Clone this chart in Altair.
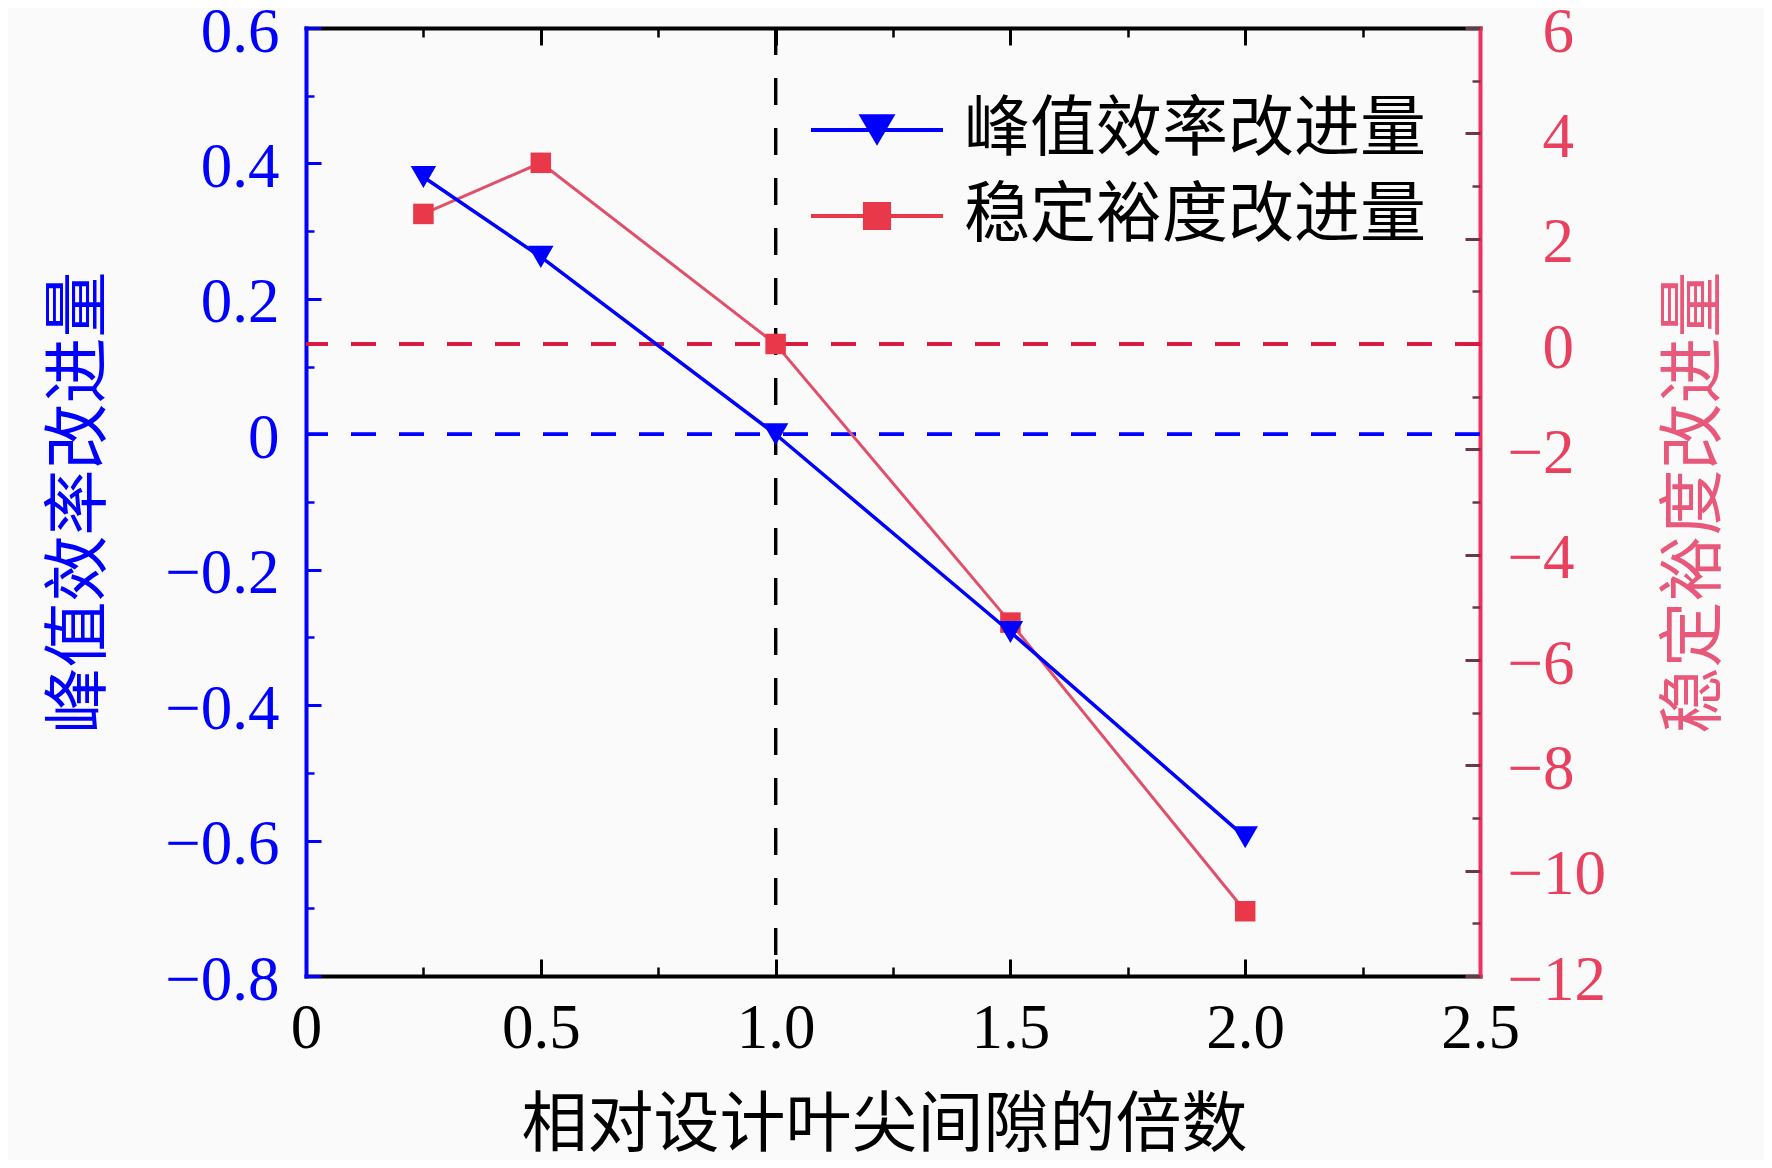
import altair as alt
import pandas as pd

# ---- data ----
x_vals = [0.25, 0.5, 1.0, 1.5, 2.0]
eff_vals = [0.38, 0.262, 0.0, -0.292, -0.595]        # 峰值效率改进量 (left axis)
margin_vals = [2.47, 3.44, 0.0, -5.29, -10.77]       # 稳定裕度改进量 (right axis)
series_names = ["峰值效率改进量", "稳定裕度改进量"]

x_major = [0, 0.5, 1.0, 1.5, 2.0, 2.5]
x_minor = [0.25, 0.75, 1.25, 1.75, 2.25]
yl_major = [-0.8, -0.6, -0.4, -0.2, 0, 0.2, 0.4, 0.6]
yl_minor = [-0.7, -0.5, -0.3, -0.1, 0.1, 0.3, 0.5]
yr_major = [-12, -10, -8, -6, -4, -2, 0, 2, 4, 6]
yr_minor = [-11, -9, -7, -5, -3, -1, 1, 3, 5]

x_title = "相对设计叶尖间隙的倍数"
yl_title = "峰值效率改进量"
yr_title = "稳定裕度改进量"

ref_x = 1.0
ref_y_left = 0
ref_y_right = 0

# ---- styles ----
BLUE = "#0000ff"
RED_MARK = "#e8384a"
RED_LINE = "#e0506a"
RED_AXIS = "#f0305a"
RED_LABEL = "#e8405e"
RED_TITLE = "#e8587a"
RED_DASH = "#d8183e"
RTICK = "#6a3a44"
NUM_FONT = "Liberation Serif"
CJK_FONT = "Noto Sans CJK SC"
NUM_SIZE = 63
CJK_SIZE = 66

W, H = 1174, 948

df = pd.DataFrame({"x": x_vals, "eff": eff_vals, "margin": margin_vals})
legend_df = pd.DataFrame({"series": series_names})

xs = alt.Scale(domain=[0, 2.5], nice=False, zero=False)
yls = alt.Scale(domain=[-0.8, 0.6], nice=False, zero=False)
yrs = alt.Scale(domain=[-12, 6], nice=False, zero=False)

dec_expr = "datum.value == 0 ? '0' : format(datum.value, '.1f')"


def xlayer(axis):
    return alt.Chart(df).mark_point(opacity=0).encode(
        x=alt.X("x:Q", scale=xs, axis=axis))


def ylayer(field, scale, axis):
    return alt.Chart(df).mark_point(opacity=0).encode(
        y=alt.Y(field, scale=scale, axis=axis))


common_off = dict(grid=False, labelFlush=False, labelOverlap=False)

# bottom
ax_bottom_dom = alt.Axis(orient="bottom", values=x_major, ticks=False, labels=False,
                         domain=True, domainColor="black", domainWidth=4, domainCap="square",
                         title=x_title, titleFont=CJK_FONT, titleFontSize=CJK_SIZE,
                         titleFontWeight="normal", titleColor="black", titleX=578, titleY=149,
                         titleBaseline="middle", titleAlign="center", **common_off)
ax_bottom_maj = alt.Axis(orient="bottom", values=x_major, offset=-17, tickSize=17, tickWidth=3,
                         tickColor="black", domain=False, labelExpr=dec_expr, labelFont=NUM_FONT,
                         labelFontSize=NUM_SIZE, labelColor="black", labelPadding=21,
                         title=None, **common_off)
ax_bottom_min = alt.Axis(orient="bottom", values=x_minor, offset=-9, tickSize=9, tickWidth=2.5,
                         tickColor="black", domain=False, labels=False, title=None, **common_off)
# top
ax_top_dom = alt.Axis(orient="top", values=x_major, ticks=False, labels=False, domain=True,
                      domainColor="black", domainWidth=4, domainCap="square", title=None, **common_off)
ax_top_maj = alt.Axis(orient="top", values=x_major, offset=-17, tickSize=17, tickWidth=3,
                      tickColor="black", domain=False, labels=False, title=None, **common_off)
ax_top_min = alt.Axis(orient="top", values=x_minor, offset=-9, tickSize=9, tickWidth=2.5,
                      tickColor="black", domain=False, labels=False, title=None, **common_off)
# left
ax_left_dom = alt.Axis(orient="left", values=yl_major, ticks=False, labels=False, domain=True,
                       domainColor=BLUE, domainWidth=4, domainCap="square",
                       title=yl_title, titleFont=CJK_FONT, titleFontSize=CJK_SIZE,
                       titleFontWeight="normal", titleColor=BLUE, titleX=-227, titleY=474,
                       titleAngle=270, titleBaseline="middle", titleAlign="center", **common_off)
ax_left_maj = alt.Axis(orient="left", values=yl_major, offset=-15, tickSize=15, tickWidth=3,
                       tickColor=BLUE, domain=False, labelExpr=dec_expr, labelFont=NUM_FONT,
                       labelFontSize=NUM_SIZE, labelColor=BLUE, labelPadding=27, labelOffset=4,
                       labelAlign="right", labelBaseline="middle", title=None, **common_off)
ax_left_min = alt.Axis(orient="left", values=yl_minor, offset=-8, tickSize=8, tickWidth=2.5,
                       tickColor=BLUE, domain=False, labels=False, title=None, **common_off)
# right
ax_right_dom = alt.Axis(orient="right", values=yr_major, ticks=False, labels=False, domain=True,
                        domainColor=RED_AXIS, domainWidth=4, domainCap="square",
                        title=yr_title, titleFont=CJK_FONT, titleFontSize=CJK_SIZE,
                        titleFontWeight="normal", titleColor=RED_TITLE, titleX=214, titleY=474,
                        titleAngle=270, titleBaseline="middle", titleAlign="center", **common_off)
ax_right_maj = alt.Axis(orient="right", values=yr_major, offset=-15, tickSize=15, tickWidth=3,
                        tickColor=RTICK, domain=False, format="d", labelFont=NUM_FONT,
                        labelFontSize=NUM_SIZE, labelColor=RED_LABEL, labelOffset=4,
                        labelPadding={"condition": {"test": "datum.value < 0", "value": 27}, "value": 62},
                        labelAlign="left", labelBaseline="middle", title=None, **common_off)
ax_right_min = alt.Axis(orient="right", values=yr_minor, offset=-8, tickSize=8, tickWidth=2.5,
                        tickColor=RTICK, domain=False, labels=False, title=None, **common_off)

axis_layers = [
    xlayer(ax_bottom_dom), xlayer(ax_bottom_maj), xlayer(ax_bottom_min),
    xlayer(ax_top_dom), xlayer(ax_top_maj), xlayer(ax_top_min),
    ylayer("eff:Q", yls, ax_left_dom), ylayer("eff:Q", yls, ax_left_maj), ylayer("eff:Q", yls, ax_left_min),
    ylayer("margin:Q", yrs, ax_right_dom), ylayer("margin:Q", yrs, ax_right_maj), ylayer("margin:Q", yrs, ax_right_min),
]

# reference dashed lines
vline = alt.Chart(df).mark_rule(color="black", strokeWidth=3, strokeDash=[27, 23]).encode(
    x=alt.XDatum(ref_x, type="quantitative", scale=xs, axis=None))
hline_blue = alt.Chart(df).mark_rule(color=BLUE, strokeWidth=3, strokeDash=[25, 23]).encode(
    y=alt.YDatum(ref_y_left, type="quantitative", scale=yls, axis=None))
hline_red = alt.Chart(df).mark_rule(color=RED_DASH, strokeWidth=3, strokeDash=[25, 23]).encode(
    y=alt.YDatum(ref_y_right, type="quantitative", scale=yrs, axis=None))

# data series
red_line = alt.Chart(df).mark_line(color=RED_LINE, strokeWidth=3).encode(
    x=alt.X("x:Q", scale=xs, axis=None), y=alt.Y("margin:Q", scale=yrs, axis=None))
blue_line = alt.Chart(df).mark_line(color=BLUE, strokeWidth=3.5).encode(
    x=alt.X("x:Q", scale=xs, axis=None), y=alt.Y("eff:Q", scale=yls, axis=None))
blue_pts = alt.Chart(df).mark_point(shape="triangle-down", filled=True, size=650, color=BLUE,
                                    opacity=1).encode(
    x=alt.X("x:Q", scale=xs, axis=None), y=alt.Y("eff:Q", scale=yls, axis=None))
red_pts = alt.Chart(df).mark_point(shape="square", filled=True, size=420, color=RED_MARK,
                                   opacity=1).encode(
    x=alt.X("x:Q", scale=xs, axis=None), y=alt.Y("margin:Q", scale=yrs, axis=None))

# legend (line + marker symbols as custom paths)
tri_path = "M-1.5,-0.045H1.5V0.045H-1.5Z M-0.42,-0.36H0.42L0,0.36Z"
sq_path = "M-1.5,-0.045H1.5V0.045H-1.5Z M-0.32,-0.32H0.32V0.32H-0.32Z"
leg = alt.Legend(orient="none", legendX=527, legendY=58, title=None, symbolSize=7744,
                 symbolStrokeWidth=0, symbolOpacity=1, labelFont=CJK_FONT, labelFontSize=CJK_SIZE,
                 labelColor="black", labelOffset=43, labelLimit=1000, rowPadding=9, padding=0)
legend_layer = alt.Chart(legend_df).mark_point(filled=True, opacity=0).encode(
    color=alt.Color("series:N", scale=alt.Scale(domain=series_names, range=[BLUE, RED_MARK]), legend=leg),
    shape=alt.Shape("series:N", scale=alt.Scale(domain=series_names, range=[tri_path, sq_path]), legend=leg),
)

chart = alt.layer(
    *axis_layers, vline, hline_blue, hline_red, red_line, blue_line, red_pts, blue_pts, legend_layer
).resolve_scale(
    y="independent"
).resolve_axis(
    x="independent", y="independent"
).properties(
    width=W, height=H,
    autosize=alt.AutoSizeParams(type="none"),
    padding={"left": 298, "top": 20, "right": 284, "bottom": 184},
    background="#fafafa",
).configure_view(stroke=None)

chart.save("out.html", embed_options={"renderer": "svg", "actions": False})
